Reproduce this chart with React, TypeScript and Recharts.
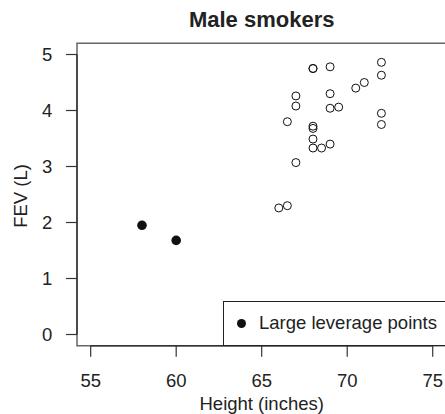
import {
  ScatterChart,
  Scatter,
  XAxis,
  YAxis,
  ReferenceArea,
  ReferenceLine,
  Legend,
} from 'recharts'

// Male smokers: height (inches) against FEV (litres)
const heights = [68, 68, 69, 72, 72, 71, 70.5, 67, 69, 67, 69, 69.5, 66.5, 68, 68, 72, 72, 68, 68, 68.5, 69, 67, 66, 66.5]
const fevValues = [4.75, 4.75, 4.78, 4.86, 4.63, 4.5, 4.4, 4.26, 4.3, 4.08, 4.04, 4.06, 3.8, 3.72, 3.68, 3.95, 3.75, 3.49, 3.33, 3.33, 3.4, 3.07, 2.26, 2.3]

// the two large leverage points
const leverageHeights = [58, 60]
const leverageFev = [1.95, 1.68]

const xTicks = [55, 60, 65, 70, 75]
const yTicks = [0, 1, 2, 3, 4, 5]

const fontFamily = '"Liberation Sans", Arial, Helvetica, sans-serif'
const ink = '#222'

const points = heights.map((h, i) => ({ height: h, fev: fevValues[i] }))
const leveragePoints = leverageHeights.map((h, i) => ({ height: h, fev: leverageFev[i] }))

const OpenDot = (props: any) => (
  <circle cx={props.cx} cy={props.cy} r={4} fill="none" stroke="#111" strokeWidth={1} />
)

const SolidDot = (props: any) => (
  <circle cx={props.cx} cy={props.cy} r={4.8} fill="#111" />
)

const LegendBox = () => (
  <div
    style={{
      boxSizing: 'border-box',
      width: '100%',
      height: '100%',
      border: `1px solid ${ink}`,
      background: '#fff',
      display: 'flex',
      alignItems: 'center',
      fontSize: 18.5,
      color: ink,
    }}
  >
    <span
      style={{
        display: 'inline-block',
        width: 9.5,
        height: 9.5,
        borderRadius: '50%',
        background: '#111',
        marginLeft: 12.5,
        marginRight: 13,
      }}
    />
    <span style={{ whiteSpace: 'nowrap' }}>Large leverage points</span>
  </div>
)

export default function App() {
  return (
    <div
      style={{
        position: 'absolute',
        left: 0,
        top: 0,
        width: 445,
        height: 414,
        overflow: 'hidden',
        background: '#fff',
        fontFamily,
      }}
    >
      <svg width={445} height={414} style={{ position: 'absolute', left: 0, top: 0, pointerEvents: 'none' }}>
        <text x={261.7} y={26.7} textAnchor="middle" fontSize={22} fontWeight="bold" fill={ink} fontFamily={fontFamily}>
          Male smokers
        </text>
        <text
          x={26.5}
          y={196}
          textAnchor="middle"
          transform="rotate(-90 26.5 196)"
          fontSize={18.5}
          fill={ink}
          fontFamily={fontFamily}
        >
          FEV (L)
        </text>
      </svg>
      <ScatterChart
        width={447}
        height={414}
        margin={{ top: 43.3, right: 0.6, bottom: 0, left: 0 }}
        style={{ position: 'absolute', left: 0, top: 0 }}
      >
        <XAxis
          type="number"
          dataKey="height"
          domain={[54.2, 75.8]}
          ticks={xTicks}
          allowDataOverflow
          height={68.3}
          axisLine={false}
          tickSize={11}
          tickMargin={17.5}
          tickLine={{ stroke: '#333', strokeWidth: 1.2 }}
          tick={{ fill: ink, fontSize: 18.5, fontFamily }}
          label={{ value: 'Height (inches)', position: 'insideBottom', offset: 4, fill: ink, fontSize: 18.5, fontFamily }}
        />
        <YAxis
          type="number"
          dataKey="fev"
          domain={[-0.2, 5.2]}
          ticks={yTicks}
          allowDataOverflow
          width={77}
          axisLine={false}
          tickSize={11}
          tickMargin={13.7}
          tickLine={{ stroke: '#333', strokeWidth: 1.2 }}
          tick={{ fill: ink, fontSize: 18.5, fontFamily }}
        />
        {/* plot frame */}
        <ReferenceArea
          x1={54.2}
          x2={75.8}
          y1={-0.2}
          y2={5.2}
          fill="none"
          stroke="#666"
          strokeWidth={1.5}
          ifOverflow="visible"
        />
        {/* axis lines span first to last tick */}
        <ReferenceLine
          segment={[{ x: 55, y: -0.2 }, { x: 75, y: -0.2 }]}
          stroke="#333"
          strokeWidth={1.5}
          ifOverflow="visible"
        />
        <ReferenceLine
          segment={[{ x: 54.2, y: 0 }, { x: 54.2, y: 5 }]}
          stroke="#333"
          strokeWidth={1.5}
          ifOverflow="visible"
        />
        <Scatter data={points} shape={OpenDot} isAnimationActive={false} />
        <Scatter data={leveragePoints} shape={SolidDot} isAnimationActive={false} />
        <Legend
          layout="horizontal"
          verticalAlign="middle"
          align="center"
          content={LegendBox}
          wrapperStyle={{ left: 223, top: 300.5, width: 226, height: 45.5 }}
        />
      </ScatterChart>
    </div>
  )
}
